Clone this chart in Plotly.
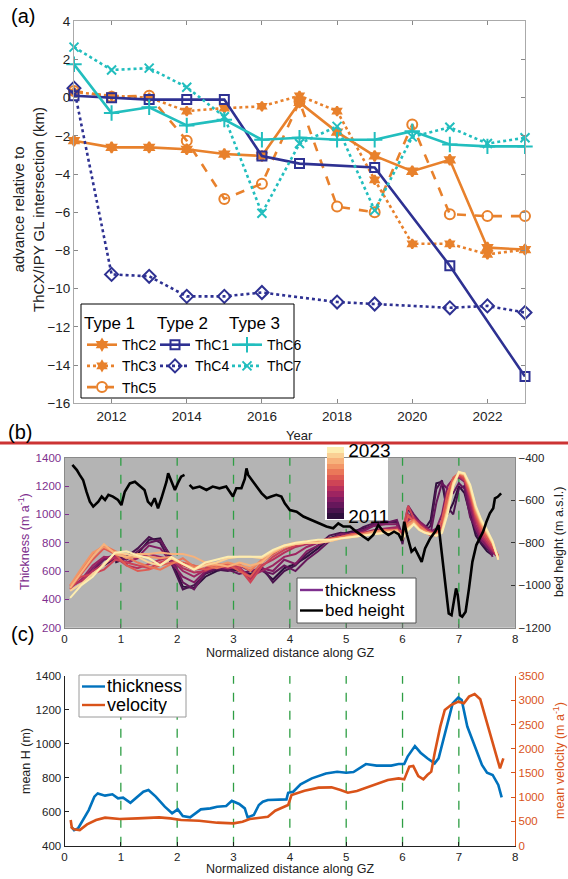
import plotly.graph_objects as go
from plotly.colors import sample_colorscale, sequential

FONT = "Liberation Sans, Arial, sans-serif"
FIG_W, FIG_H = 568, 879

# ---------------- (a) grounding-line advance per transect (km) ----------------
years = [2011, 2012, 2013, 2014, 2015, 2016, 2017, 2018, 2019, 2020, 2021, 2022, 2023]
thc2 = [-2.25, -2.6, -2.6, -2.7, -2.95, -3.05, -0.25, -1.8, -3.05, -3.85, -3.25, -7.85, -7.95]
thc3 = [0.3, 0.1, 0.0, -0.7, -0.55, -0.45, 0.1, -0.7, -4.3, -7.65, -7.65, -8.2, -7.95]
thc5 = [0.35, 0.05, 0.1, -2.25, -5.3, -4.5, -0.2, -5.7, -6.0, -1.4, -6.1, -6.2, -6.2]
thc1 = [0.1, 0.0, -0.1, -0.1, -0.1, -3.05, -3.45, None, -3.65, None, -8.8, None, -14.6]
thc4 = [0.5, -9.25, -9.35, -10.4, -10.4, -10.2, None, -10.7, -10.8, None, -11.0, -10.9, -11.25]
thc6 = [1.75, -0.8, -0.5, -1.45, -1.15, -2.2, -2.1, -2.2, -2.2, -1.75, -2.45, -2.55, -2.55]
thc7 = [2.65, 1.45, 1.55, 0.55, -1.0, -6.05, -2.4, -1.5, -5.9, -2.05, -1.55, -2.4, -2.1]
year_ticks = [2012, 2014, 2016, 2018, 2020, 2022]

# ---------------- (b) thickness profiles along the grounding zone ----------------
gz_grid = [0.1, 0.3, 0.5, 0.7, 0.9, 1.1, 1.3, 1.5, 1.7, 1.9, 2.1, 2.3, 2.5, 2.7, 2.9, 3.1,
           3.3, 3.5, 3.7, 3.9, 4.1, 4.3, 4.5, 4.7, 4.9, 5.1, 5.3, 5.5, 5.7, 5.9, 6.0, 6.1,
           6.2, 6.3, 6.4, 6.5, 6.6, 6.7, 6.8, 6.9, 7.0, 7.1, 7.2, 7.3, 7.4, 7.5, 7.6, 7.7]
thk_2011 = [None, None, None, None, 660, 690, 720, 820, 830, 680, 490, 480, 560, 600, 620, 600,
            580, 610, 540, 620, 650, 700, 760, 830, 860, 880, 900, 920, 940, 950, 820, 1000,
            960, 930, 900, 960, 1220, 1230, 1000, 1080, 1200, 1150, 1000, 850, 790, 740, 710, None]
thk_2012 = [None, None, None, 640, 690, 700, 760, 840, 800, 650, 470, 500, 580, 610, 600, 620,
            560, 630, 520, 600, 640, 720, 780, 850, 870, 860, 910, 940, 950, 940, 790, 1050,
            960, 940, 880, 920, 1180, 1240, 1050, 1000, 1180, 1200, 1050, 880, 800, 760, 720, None]
thk_2013 = [None, None, 600, 680, 700, 680, 740, 800, 820, 700, 520, 470, 590, 620, 610, 580,
            600, 600, 580, 640, 600, 680, 740, 810, 850, 870, 890, 930, 940, 960, 850, 1060,
            1000, 950, 900, 870, 1080, 1220, 1180, 1150, 1220, 1180, 980, 900, 820, 780, 700, None]
thk_2014 = [None, 520, 620, 690, 710, 650, 700, 780, 760, 660, 560, 520, 600, 630, 620, 640,
            600, 620, 600, 680, 650, 740, 780, 820, 860, 860, 880, 920, 930, 930, 830, 980,
            960, 950, 920, 880, 900, 1000, 1200, 1250, 1260, 1230, 1050, 900, 820, 770, 730, 700]
thk_2015 = [480, 540, 640, 700, 690, 660, 690, 720, 700, 680, 600, 560, 610, 640, 630, 620,
            560, 600, 640, 700, 720, 770, 800, 820, 840, 850, 870, 890, 900, 910, 850, 960,
            980, 940, 900, 870, 880, 950, 1150, 1240, 1280, 1250, 1100, 930, 840, 790, 740, 700]
thk_2016 = [490, 530, 600, 650, 700, 640, 620, 650, 680, 700, 620, 590, 600, 640, 620, 630,
            540, 640, 680, 730, 770, 790, 800, 820, 830, 850, 860, 880, 890, 900, 860, 1000,
            960, 930, 900, 880, 860, 920, 1120, 1230, 1270, 1240, 1120, 960, 860, 800, 750, 690]
thk_2017 = [500, 560, 580, 610, 680, 660, 640, 620, 660, 690, 640, 610, 620, 650, 640, 620,
            520, 630, 700, 750, 780, 800, 810, 820, 840, 860, 870, 880, 890, 890, 880, 1060,
            970, 920, 880, 860, 850, 900, 1100, 1240, 1280, 1250, 1130, 980, 880, 820, 760, 700]
thk_2018 = [470, 580, 680, 760, 720, 640, 600, 610, 640, 660, 660, 640, 610, 630, 650, 600,
            560, 660, 720, 770, 790, 810, 810, 830, 840, 860, 860, 870, 880, 890, 850, 990,
            950, 900, 880, 850, 860, 960, 1150, 1260, 1290, 1260, 1150, 1000, 900, 840, 780, 710]
thk_2019 = [490, 600, 720, 780, 740, 700, 660, 630, 610, 650, 690, 630, 640, 620, 640, 650,
            600, 680, 730, 770, 790, 800, 800, 820, 840, 850, 860, 870, 890, 880, 840, 940,
            960, 920, 890, 860, 850, 900, 1080, 1230, 1290, 1270, 1170, 1010, 920, 860, 790, 700]
thk_2020 = [500, 620, 730, 770, 730, 690, 700, 700, 690, 700, 650, 620, 650, 640, 660, 640,
            620, 670, 740, 780, 800, 800, 810, 820, 830, 850, 860, 880, 880, 890, 820, 920,
            950, 900, 880, 870, 860, 880, 1050, 1220, 1290, 1280, 1180, 1030, 930, 860, 800, 690]
thk_2021 = [480, 590, 700, 790, 720, 700, 720, 720, 730, 720, 720, 700, 660, 650, 630, 660,
            640, 660, 730, 770, 790, 800, 800, 810, 830, 840, 850, 870, 870, 880, 830, 900,
            940, 890, 870, 860, 850, 870, 1020, 1200, 1290, 1290, 1190, 1040, 940, 870, 800, 680]
thk_2022 = [460, 510, 580, 640, 730, 720, 700, 660, 640, 690, 650, 610, 640, 660, 690, 700,
            700, 690, 740, 780, 790, 800, 800, 810, 830, 840, 850, 860, 870, 880, 840, 900,
            930, 890, 870, 860, 850, 880, 1030, 1220, 1300, 1280, 1200, 1050, 950, 880, 800, 690]
thk_2023 = [410, 500, 560, 650, 730, 740, 710, 690, 640, 700, 650, 610, 660, 680, 700, 700,
            700, 700, 750, 780, 800, 810, 820, 820, 830, 840, 850, 860, 870, 870, 830, 890,
            930, 890, 870, 860, 850, 870, 1000, 1200, 1300, 1290, 1210, 1060, 960, 890, 810, 680]

bed_x = [0.14, 0.22, 0.27, 0.33, 0.39, 0.45, 0.51, 0.6, 0.66, 0.72, 0.78, 0.86, 0.95, 1.01,
         1.07, 1.16, 1.25, 1.34, 1.42, 1.48, 1.54, 1.6, 1.66, 1.72, 1.81, 1.84, 1.9, 1.96,
         2.01, 2.07, 2.13, 2.17, 2.22, 2.28, 2.4, 2.52, 2.63, 2.75, 2.87, 2.99, 3.05, 3.14,
         3.2, 3.23, 3.26, 3.32, 3.41, 3.5, 3.59, 3.67, 3.76, 3.85, 3.91, 4.0, 4.12, 4.24,
         4.38, 4.53, 4.65, 4.77, 4.86, 4.95, 5.07, 5.18, 5.3, 5.39, 5.48, 5.57, 5.66, 5.75,
         5.85, 5.93, 5.99, 6.03, 6.08, 6.16, 6.22, 6.28, 6.34, 6.4, 6.49, 6.58, 6.64, 6.66,
         6.72, 6.78, 6.82, 6.87, 6.91, 6.95, 6.98, 7.02, 7.06, 7.12, 7.18, 7.24, 7.31, 7.37,
         7.43, 7.49, 7.55, 7.61, 7.64, 7.69, 7.75]
bed_h = [-434, -458, -481, -505, -560, -607, -630, -607, -583, -599, -575, -583, -599, -623,
         -560, -521, -513, -536, -552, -607, -623, -591, -638, -591, -513, -473, -513, -552,
         -521, -489, -481, None, -528, -544, -536, -552, -536, -544, -536, -583, -544, -544,
         -500, -450, -481, -505, -536, -568, -591, -583, -575, -583, -615, -646, -654, -677,
         -693, -709, -724, -732, -709, -724, -724, -748, -771, -787, -764, -717, -748, -764,
         -748, -760, -790, -701, -764, -842, -827, -858, -890, -827, -780, -748, -717, -764,
         -905, -1062, -1133, -1141, -1078, -1015, -1046, -1141, -1148, -1125, -1015, -890, -811, -780,
         -748, -701, -662, -638, -591, -584, -568]

# ---------------- (c) along-GZ means ----------------
mean_h_x = [0.12, 0.17, 0.24, 0.33, 0.43, 0.53, 0.59, 0.72, 0.85, 0.95, 1.04, 1.17, 1.27, 1.40,
            1.49, 1.62, 1.78, 1.91, 2.01, 2.10, 2.23, 2.33, 2.42, 2.59, 2.71, 2.87, 2.97, 3.10,
            3.20, 3.25, 3.36, 3.45, 3.52, 3.61, 3.81, 3.94, 3.97, 4.06, 4.19, 4.39, 4.64, 4.84,
            5.00, 5.13, 5.35, 5.54, 5.80, 5.93, 6.03, 6.09, 6.22, 6.32, 6.44, 6.57, 6.64, 6.77,
            6.89, 6.99, 7.05, 7.15, 7.28, 7.41, 7.50, 7.60, 7.70, 7.76]
mean_h = [512, 492, 502, 551, 610, 689, 708, 695, 703, 679, 683, 653, 679, 718,
          728, 689, 630, 591, 614, 575, 567, 591, 614, 620, 630, 634, 665, 646,
          620, 567, 581, 640, 659, 669, 669, 673, 712, 718, 762, 797, 826, 836,
          830, 834, 881, 872, 872, 881, 881, 925, 987, 948, 915, 885, 915, 1082,
          1239, 1274, 1259, 1102, 984, 876, 830, 817, 758, 685]
mean_v_x = [0.11, 0.13, 0.17, 0.27, 0.40, 0.56, 0.72, 0.98, 1.30, 1.68, 1.88, 2.07, 2.39, 2.71,
            3.00, 3.16, 3.29, 3.49, 3.61, 3.74, 3.90, 3.97, 4.03, 4.26, 4.51, 4.74, 4.90, 5.03,
            5.19, 5.48, 5.74, 5.93, 6.03, 6.12, 6.19, 6.28, 6.37, 6.44, 6.51, 6.57, 6.67, 6.75,
            6.86, 6.99, 7.09, 7.18, 7.28, 7.38, 7.50, 7.63, 7.70, 7.73, 7.79]
mean_v = [530, 371, 337, 323, 440, 530, 578, 550, 564, 585, 564, 530, 516, 475,
          461, 495, 550, 585, 598, 722, 805, 839, 1045, 1135, 1197, 1203, 1148, 1093,
          1128, 1252, 1355, 1389, 1368, 1630, 1643, 1437, 1368, 1458, 1527, 1905, 2455, 2799,
          2902, 2971, 2936, 3074, 3129, 3019, 2524, 1974, 1664, 1595, 1802]
gz_marks = [1, 2, 3, 4, 5, 6, 7]

# ---------------- styling ----------------
ORANGE = "#E8812C"
NAVY = "#2E3192"
CYAN = "#22BEBE"
PURPLE = "#7E2F8E"
BLUE = "#0072BD"
RED_ORANGE = "#D95319"
GREEN = "#2E9E44"
TXT = "#222222"


def fx(p):
    return p / FIG_W


def fy(p):
    return 1 - p / FIG_H


fig = go.Figure()

# (a) transects
series_a = [
    ("ThC2", thc2, ORANGE, "solid", "hexagram", 8, "legend"),
    ("ThC3", thc3, ORANGE, "dot", "hexagram", 7, "legend"),
    ("ThC5", thc5, ORANGE, "dash", "circle-open", 10, "legend"),
    ("ThC1", thc1, NAVY, "solid", "square-open", 9, "legend2"),
    ("ThC4", thc4, NAVY, "dot", "diamond-open", 10, "legend2"),
    ("ThC6", thc6, CYAN, "solid", "cross-thin-open", 11, "legend3"),
    ("ThC7", thc7, CYAN, "dot", "x-thin-open", 9, "legend3"),
]
for name, vals, col, dash, sym, size, leg in series_a:
    fig.add_trace(go.Scatter(
        x=years, y=vals, name=name, mode="lines+markers", connectgaps=True,
        line=dict(color=col, width=2.6, dash=dash),
        marker=dict(symbol=sym, size=size, color=col, line=dict(color=col, width=2)),
        cliponaxis=False, legend=leg, xaxis="x", yaxis="y",
    ))

# (b) yearly thickness profiles coloured by year
thk_years = [thk_2011, thk_2012, thk_2013, thk_2014, thk_2015, thk_2016, thk_2017,
             thk_2018, thk_2019, thk_2020, thk_2021, thk_2022, thk_2023]
year_cols = sample_colorscale(sequential.matter_r, [i / 12 for i in range(13)])
for yr, vals, col in zip(years, thk_years, year_cols):
    fig.add_trace(go.Scatter(
        x=gz_grid, y=vals, mode="lines", line=dict(color=col, width=2),
        showlegend=False, xaxis="x2", yaxis="y2", name=str(yr),
    ))
fig.add_trace(go.Scatter(
    x=bed_x, y=bed_h, mode="lines", name="bed height", connectgaps=False,
    line=dict(color="black", width=2.6), showlegend=False, xaxis="x2", yaxis="y3",
))

# stepped colour bar for the years
n = len(year_cols)
steps = []
for i, c in enumerate(year_cols):
    steps.append([i / n, c])
    steps.append([(i + 1) / n, c])
fig.add_trace(go.Scatter(
    x=[None], y=[None], mode="markers", showlegend=False, hoverinfo="skip",
    marker=dict(
        color=[years[0]], colorscale=steps, cmin=years[0] - 0.5, cmax=years[-1] + 0.5,
        showscale=True,
        colorbar=dict(
            x=fx(326.7), xanchor="left", y=fy(447.3), yanchor="top",
            len=(519 - 447.3) / FIG_H, lenmode="fraction", thickness=17,
            thicknessmode="pixels", xpad=0, ypad=0, outlinewidth=0,
            tickvals=[years[0], years[-1]], ticktext=[str(years[0]), str(years[-1])],
            ticks="", tickfont=dict(size=19, color="black", family=FONT),
        ),
    ),
    xaxis="x2", yaxis="y2",
))

# (c) mean thickness and velocity
fig.add_trace(go.Scatter(
    x=mean_h_x, y=mean_h, mode="lines", name="thickness",
    line=dict(color=BLUE, width=2.6), showlegend=False, xaxis="x3", yaxis="y4",
))
fig.add_trace(go.Scatter(
    x=mean_v_x, y=mean_v, mode="lines", name="velocity",
    line=dict(color=RED_ORANGE, width=2.6), showlegend=False, xaxis="x3", yaxis="y5",
))

# ---------------- shapes ----------------
shapes = [
    # grey axes background of (b)
    dict(type="rect", xref="x2 domain", yref="y2 domain", x0=0, x1=1, y0=0, y1=1,
         fillcolor="#B4B4B4", line=dict(width=0), layer="below"),
]
for g in gz_marks:
    shapes.append(dict(type="line", xref="x2", yref="y2 domain", x0=g, x1=g, y0=0, y1=1,
                       line=dict(color=GREEN, width=1.3, dash="dash"), layer="below"))
# white backdrop behind the colour bar
shapes.append(dict(type="rect", xref="x2 domain", yref="y2 domain",
                   x0=(325 - 64.5) / 450.7, x1=(388 - 64.5) / 450.7,
                   y0=1 - (520 - 457.7) / 170, y1=1,
                   fillcolor="white", line=dict(width=0), layer="below"))
for g in gz_marks:
    shapes.append(dict(type="line", xref="x3", yref="y4 domain", x0=g, x1=g, y0=0, y1=1,
                       line=dict(color=GREEN, width=1.3, dash="dash"), layer="below"))
# frame around the three-column legend of (a)
shapes.append(dict(type="rect", xref="paper", yref="paper",
                   x0=fx(81), x1=fx(294), y0=fy(398), y1=fy(304),
                   fillcolor="white", line=dict(color="black", width=1), layer="above"))
# separator between (a) and (b)
shapes.append(dict(type="line", xref="paper", yref="paper", x0=0, x1=1,
                   y0=fy(443), y1=fy(443), line=dict(color="#CC3333", width=3)))


# compact keys for (b) and (c)
def key_box(x0, x1, y0, y1, edge):
    return dict(type="rect", xref="paper", yref="paper", x0=fx(x0), x1=fx(x1),
                y0=fy(y1), y1=fy(y0), fillcolor="white",
                line=dict(color=edge, width=1), layer="above")


def key_line(x0, x1, y, col):
    return dict(type="line", xref="paper", yref="paper", x0=fx(x0), x1=fx(x1),
                y0=fy(y), y1=fy(y), line=dict(color=col, width=2.4), layer="above")


shapes += [
    key_box(297, 416, 578, 623, "#555555"),
    key_line(300, 323, 590, PURPLE),
    key_line(300, 323, 610.5, "black"),
    key_box(79, 186, 675, 717, "#9A9A9A"),
    key_line(82, 105, 686.5, BLUE),
    key_line(82, 105, 705, RED_ORANGE),
]


# ---------------- annotations ----------------
def ann(text, x, y, size, color=TXT, angle=0, xanchor="center", yanchor="middle", height=None):
    a = dict(text=text, x=fx(x), y=fy(y), xref="paper", yref="paper", showarrow=False,
             font=dict(size=size, color=color, family=FONT), textangle=angle,
             xanchor=xanchor, yanchor=yanchor)
    if height is not None:
        a["height"] = height
        a["valign"] = "middle"
        a["borderpad"] = 0
    return a


annotations = [
    ann("(a)", 23, 16, 20, "black"),
    ann("(b)", 20, 432, 20, "black"),
    ann("(c)", 22, 634, 20, "black"),
    ann("advance relative to<br>ThCX/IPY GL intersection (km)", 28, 210, 15, angle=-90),
    ann("Year", 299, 435, 13),
    ann("Thickness (m a<sup>-1</sup>)", 24, 542, 12.5, PURPLE, angle=-90),
    ann("bed height (m a.s.l.)", 559, 542, 12.5, TXT, angle=-90),
    ann("Normalized distance along GZ", 290, 653, 12.5),
    ann("mean H (m)", 26, 761, 12.5, angle=-90),
    ann("mean velocity (m a<sup>-1</sup>)", 559, 761, 12.5, RED_ORANGE, angle=-90),
    ann("Normalized distance along GZ", 290, 869, 12.5),
    ann("thickness", 324, 589.5, 17, "black", xanchor="left", height=18),
    ann("bed height", 324, 610, 17, "black", xanchor="left", height=18),
    ann("thickness", 106, 686, 18, "black", xanchor="left", height=18),
    ann("velocity", 106, 704.5, 18, "black", xanchor="left", height=18),
]

# ---------------- axes ----------------
common = dict(showgrid=False, zeroline=False, ticks="inside", ticklen=4)
tick_a = dict(size=13.5, color=TXT, family=FONT)
tick_bc = dict(size=11.5, color=TXT, family=FONT)

legend_a = dict(yanchor="top", xanchor="left", bgcolor="rgba(0,0,0,0)", borderwidth=0,
                font=dict(size=14, color="black", family=FONT), itemwidth=30,
                tracegroupgap=0)

fig.update_layout(
    width=FIG_W, height=FIG_H, autosize=False,
    margin=dict(l=0, r=0, t=0, b=0, autoexpand=False),
    paper_bgcolor="white", plot_bgcolor="rgba(0,0,0,0)",
    font=dict(family=FONT, color=TXT),
    hovermode=False,
    xaxis=dict(domain=[fx(74), fx(525)], range=[2011, 2023], anchor="y",
               tickvals=year_ticks, showline=True, linecolor="#AAAAAA", mirror="ticks",
               tickcolor="#888888", tickfont=tick_a, **common),
    yaxis=dict(domain=[fy(403.3), fy(21.3)], range=[-16, 4], dtick=2, anchor="x",
               showline=True, linecolor="#AAAAAA", mirror="ticks",
               tickcolor="#888888", tickfont=tick_a, **common),
    xaxis2=dict(domain=[fx(64.5), fx(515.2)], range=[0, 8], dtick=1, anchor="y2",
                showline=True, linecolor="#8A8A8A", mirror=True, tickcolor="#666666",
                tickfont=tick_bc, **common),
    yaxis2=dict(domain=[fy(627.7), fy(457.7)], range=[200, 1400], dtick=200, anchor="x2",
                showline=True, linecolor="#8A8A8A", tickcolor=PURPLE,
                tickfont=dict(size=11.5, color=PURPLE, family=FONT), **common),
    yaxis3=dict(overlaying="y2", side="right", anchor="x2", range=[-1200, -400], dtick=200,
                showline=True, linecolor="#8A8A8A", tickcolor="#333333",
                tickfont=tick_bc, **common),
    xaxis3=dict(domain=[fx(64.5), fx(515.2)], range=[0, 8], dtick=1, anchor="y4",
                showline=True, linecolor="#222222", tickcolor="#222222",
                tickfont=tick_bc, **common),
    yaxis4=dict(domain=[fy(845.7), fy(676)], range=[400, 1400], dtick=200, anchor="x3",
                showline=True, linecolor="#222222", tickcolor="#222222",
                tickfont=tick_bc, **common),
    yaxis5=dict(overlaying="y4", side="right", anchor="x3", range=[0, 3500], dtick=500,
                showline=True, linecolor=RED_ORANGE, tickcolor=RED_ORANGE,
                tickfont=dict(size=11.5, color=RED_ORANGE, family=FONT), **common),
    legend=dict(x=fx(82), y=fy(307), title=dict(text="Type 1", font=dict(size=17, color="black")),
                **legend_a),
    legend2=dict(x=fx(155), y=fy(307), title=dict(text="Type 2", font=dict(size=17, color="black")),
                 **legend_a),
    legend3=dict(x=fx(227), y=fy(307), title=dict(text="Type 3", font=dict(size=17, color="black")),
                 **legend_a),
    shapes=shapes,
    annotations=annotations,
)

fig.write_html("out.html")
